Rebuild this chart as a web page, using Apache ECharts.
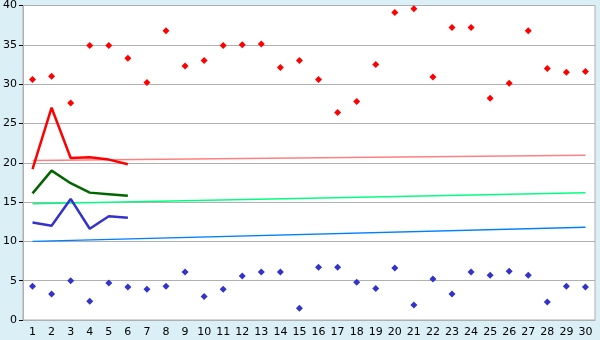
<!DOCTYPE html>
<html><head><meta charset="utf-8">
<script src="https://cdn.jsdelivr.net/npm/echarts@6/dist/echarts.min.js"></script>
<style>html,body{margin:0;padding:0;background:#daeff6;}#c{width:600px;height:340px;}</style>
</head><body><div id="c"></div>
<script>
const categories = ['1','2','3','4','5','6','7','8','9','10','11','12','13','14','15','16','17','18','19','20','21','22','23','24','25','26','27','28','29','30'];
const redPoints = [30.6,31.0,27.6,34.9,34.9,33.3,30.2,36.8,32.3,33.0,34.9,35.0,35.1,32.1,33.0,30.6,26.4,27.8,32.5,39.1,39.6,30.9,37.2,37.2,28.2,30.1,36.8,32.0,31.5,31.6];
const bluePoints = [4.3,3.3,5.0,2.4,4.7,4.2,3.9,4.3,6.1,3.0,3.9,5.6,6.1,6.1,1.5,6.7,6.7,4.8,4.0,6.6,1.9,5.2,3.3,6.1,5.7,6.2,5.7,2.3,4.3,4.2];
const redLine = [19.2,27.0,20.6,20.7,20.4,19.8];
const greenLine = [16.1,19.0,17.4,16.2,16.0,15.8];
const blueLine = [12.4,12.0,15.4,11.6,13.2,13.0];
const pinkTrend = [20.3,20.95];
const greenTrend = [14.8,16.2];
const blueTrend = [10.0,11.8];
const yTicks = [0,5,10,15,20,25,30,35,40];

function trend(ends){
  const arr = categories.map(()=>null);
  arr[0]=ends[0]; arr[categories.length-1]=ends[1];
  return arr;
}
const chart = echarts.init(document.getElementById('c'),null,{renderer:'canvas'});
chart.setOption({
  backgroundColor:'#daeff6',
  animation:false,
  grid:{left:20,right:5,top:5,bottom:20,show:true,backgroundColor:'#ffffff',borderColor:'#b0b0b0',borderWidth:1},
  xAxis:{type:'category',data:categories,boundaryGap:true,
    axisLine:{lineStyle:{color:'#b0b0b0',width:1}},
    axisTick:{alignWithLabel:true,length:5,lineStyle:{color:'#000'}},
    axisLabel:{color:'#000',fontFamily:'DejaVu Sans',fontSize:11,margin:7,interval:0},
    splitLine:{show:false}},
  yAxis:{type:'value',min:0,max:40,interval:5,
    axisLine:{show:true,lineStyle:{color:'#b0b0b0'}},
    axisTick:{show:true,length:4,lineStyle:{color:'#000'}},
    axisLabel:{color:'#000',fontFamily:'DejaVu Sans',fontSize:11,margin:6,
      formatter:v=>yTicks.includes(v)?String(v):''},
    splitLine:{lineStyle:{color:'#b0b0b0',width:1}}},
  series:[
    {type:'line',data:trend(pinkTrend),connectNulls:true,symbol:'none',lineStyle:{color:'#ff8080',width:1.5}},
    {type:'line',data:trend(greenTrend),connectNulls:true,symbol:'none',lineStyle:{color:'#00ff80',width:1.5}},
    {type:'line',data:trend(blueTrend),connectNulls:true,symbol:'none',lineStyle:{color:'#0080ff',width:1.5}},
    {type:'line',data:redLine,symbol:'none',lineStyle:{color:'#ff0000',width:2.5}},
    {type:'line',data:greenLine,symbol:'none',lineStyle:{color:'#006600',width:2.5}},
    {type:'line',data:blueLine,symbol:'none',lineStyle:{color:'#3333cc',width:2.5}},
    {type:'scatter',data:redPoints,symbol:'diamond',symbolSize:7,itemStyle:{color:'#ff0000',opacity:1}},
    {type:'scatter',data:bluePoints,symbol:'diamond',symbolSize:7,itemStyle:{color:'#3333cc',opacity:1}}
  ]
});
</script></body></html>
